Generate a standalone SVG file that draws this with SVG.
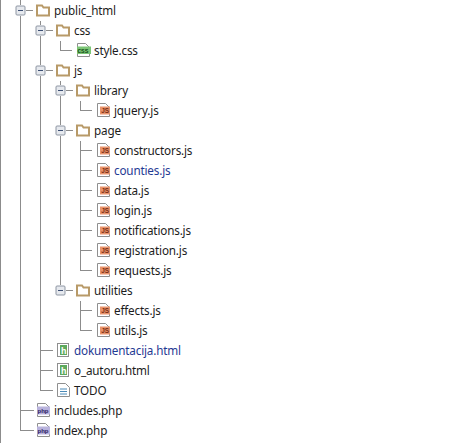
<svg xmlns="http://www.w3.org/2000/svg" width="460" height="443" viewBox="0 0 460 443">
<style>
text{font-family:"Noto Sans","DejaVu Sans",sans-serif;font-size:11.7px;letter-spacing:-.17px;fill:#1c1c1c}
text.m{fill:#1f3a93}
.c{fill:none;stroke:#8c8c8c;stroke-width:1;shape-rendering:crispEdges}
</style>
<defs>
<g id="exp"><rect x="-4.5" y="-4.5" width="9" height="9" rx="1" fill="#e6e9ee" stroke="#8e96a3"/><path d="M-2.5 0H2.5" stroke="#3d4f73" stroke-width="1"/></g>
<g id="folder"><path d="M1 11.5V1.5H6L7.5 3.5H13V11.5Z" fill="#fff" stroke="#b89a68" stroke-width="2"/></g>
<path id="page" d="M0.5 13.5V0.5H8.5L12.5 4.5V13.5Z" fill="#fff" stroke="#8f8f8f"/>
<g id="js"><use href="#page"/><rect x="3" y="3.5" width="10" height="8" fill="#e9946d"/><text x="4.2" y="10" style="font:bold 6.5px 'Liberation Sans',sans-serif;letter-spacing:0;fill:#7a2c10">JS</text></g>
<g id="css"><use href="#page"/><rect x="0" y="3.5" width="14" height="7.5" fill="#7cc576"/><text x="0.5" y="9.5" style="font:bold 6px 'Liberation Mono',monospace;letter-spacing:0;fill:#0e4a12">CSS</text></g>
<g id="html"><rect x="0.5" y="0.5" width="11" height="13" fill="#fff" stroke="#8f8f8f"/><rect x="3" y="2" width="7" height="10" fill="#5da85d"/><text x="4" y="10.5" style="font:bold 9px 'Liberation Sans',sans-serif;letter-spacing:0;fill:#fff">h</text></g>
<g id="txt"><use href="#page"/><path d="M3 6H10M3 8.5H10M3 11H10" stroke="#4a8ab8" fill="none"/></g>
<g id="php"><use href="#page"/><rect x="0" y="3.5" width="13" height="8" fill="#b9b3dc"/><text x="0.5" y="9.7" style="font:bold 6px 'Liberation Sans',sans-serif;letter-spacing:0;fill:#2a2060">php</text></g>
</defs>
<rect width="460" height="443" fill="#fff"/>
<g id="connectors" class="c">
<path class="c" d="M0.5 0V443"/>
<path class="c" d="M20.5 0V5M20.5 16V430.5H34M26 10.5H33M20.5 410.5H34"/>
<path class="c" d="M40.5 21V25M40.5 36V65M40.5 76V390.5H53M46 30.5H53M46 70.5H53M40.5 350.5H53M40.5 370.5H53"/>
<path class="c" d="M60.5 41V50.5H72"/>
<path class="c" d="M60.5 81V85M60.5 96V125M60.5 136V285M66 90.5H73M66 130.5H73M66 290.5H73"/>
<path class="c" d="M80.5 101V110.5H92"/>
<path class="c" d="M80.5 141V270.5H92M80.5 150.5H92M80.5 170.5H92M80.5 190.5H92M80.5 210.5H92M80.5 230.5H92M80.5 250.5H92"/>
<path class="c" d="M80.5 301V330.5H92M80.5 310.5H92"/>
</g>
<g id="n-public_html"><use href="#exp" x="20.5" y="10.5"/><use href="#folder" x="36" y="4"/><text x="54" y="14.5">public_html</text></g>
<g id="n-css"><use href="#exp" x="40.5" y="30.5"/><use href="#folder" x="56" y="24"/><text x="74" y="34.5">css</text></g>
<g id="n-style"><use href="#css" x="77" y="43"/><text x="94" y="54.5">style.css</text></g>
<g id="n-js"><use href="#exp" x="40.5" y="70.5"/><use href="#folder" x="56" y="64"/><text x="74" y="74.5">js</text></g>
<g id="n-library"><use href="#exp" x="60.5" y="90.5"/><use href="#folder" x="76" y="84"/><text x="94" y="94.5">library</text></g>
<g id="n-jquery"><use href="#js" x="97" y="103"/><text x="114" y="114.5">jquery.js</text></g>
<g id="n-page"><use href="#exp" x="60.5" y="130.5"/><use href="#folder" x="76" y="124"/><text x="94" y="134.5">page</text></g>
<g id="n-constructors"><use href="#js" x="97" y="143"/><text x="114" y="154.5">constructors.js</text></g>
<g id="n-counties"><use href="#js" x="97" y="163"/><text class="m" x="114" y="174.5">counties.js</text></g>
<g id="n-data"><use href="#js" x="97" y="183"/><text x="114" y="194.5">data.js</text></g>
<g id="n-login"><use href="#js" x="97" y="203"/><text x="114" y="214.5">login.js</text></g>
<g id="n-notifications"><use href="#js" x="97" y="223"/><text x="114" y="234.5">notifications.js</text></g>
<g id="n-registration"><use href="#js" x="97" y="243"/><text x="114" y="254.5">registration.js</text></g>
<g id="n-requests"><use href="#js" x="97" y="263"/><text x="114" y="274.5">requests.js</text></g>
<g id="n-utilities"><use href="#exp" x="60.5" y="290.5"/><use href="#folder" x="76" y="284"/><text x="94" y="294.5">utilities</text></g>
<g id="n-effects"><use href="#js" x="97" y="303"/><text x="114" y="314.5">effects.js</text></g>
<g id="n-utils"><use href="#js" x="97" y="323"/><text x="114" y="334.5">utils.js</text></g>
<g id="n-dokumentacija"><use href="#html" x="57" y="343"/><text class="m" x="74" y="354.5">dokumentacija.html</text></g>
<g id="n-o_autoru"><use href="#html" x="57" y="363"/><text x="74" y="374.5">o_autoru.html</text></g>
<g id="n-todo"><use href="#txt" x="57" y="383"/><text x="74" y="394.5">TODO</text></g>
<g id="n-includes"><use href="#php" x="37" y="403"/><text x="54" y="414.5">includes.php</text></g>
<g id="n-index"><use href="#php" x="37" y="423"/><text x="54" y="434.5">index.php</text></g>
</svg>
